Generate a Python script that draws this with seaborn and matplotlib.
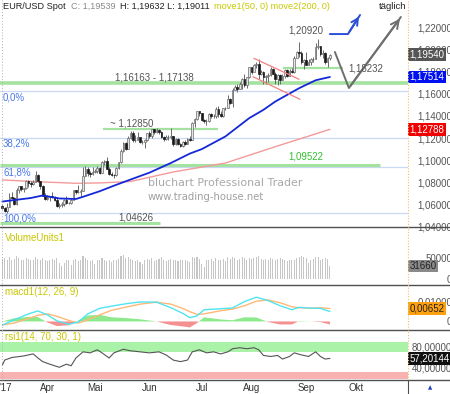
import matplotlib
matplotlib.use('Agg')
import matplotlib.pyplot as plt
import matplotlib.transforms as mtransforms
from matplotlib.lines import Line2D
import seaborn as sns
import numpy as np
import pandas as pd

# ---------------- data (EUR/USD daily, 7 Mar - 15 Sep 2017) ----------------
first_open = 1.0585

close_mar = [1.0570, 1.0545, 1.0580, 1.0670, 1.0655, 1.0605, 1.0735, 1.0765, 1.0740, 1.0745,
             1.0810, 1.0795, 1.0785, 1.0800, 1.0865, 1.0815, 1.0765, 1.0680, 1.0650]
high_mar = [1.0605, 1.0580, 1.0615, 1.0700, 1.0715, 1.0665, 1.0745, 1.0770, 1.0765, 1.0750,
            1.0820, 1.0820, 1.0810, 1.0820, 1.0905, 1.0875, 1.0815, 1.0775, 1.0700]
low_mar = [1.0560, 1.0535, 1.0525, 1.0585, 1.0650, 1.0600, 1.0600, 1.0705, 1.0720, 1.0710,
           1.0740, 1.0760, 1.0760, 1.0775, 1.0800, 1.0805, 1.0740, 1.0675, 1.0645]

close_apr = [1.0665, 1.0675, 1.0665, 1.0645, 1.0590, 1.0600, 1.0605, 1.0640, 1.0615, 1.0615,
             1.0645, 1.0730, 1.0715, 1.0715, 1.0725, 1.0855, 1.0925, 1.0885, 1.0875, 1.0895]
high_apr = [1.0690, 1.0680, 1.0715, 1.0675, 1.0665, 1.0615, 1.0625, 1.0650, 1.0675, 1.0625,
            1.0660, 1.0735, 1.0735, 1.0775, 1.0740, 1.0935, 1.0945, 1.0935, 1.0905, 1.0935]
low_apr = [1.0640, 1.0630, 1.0655, 1.0635, 1.0580, 1.0570, 1.0580, 1.0585, 1.0605, 1.0605,
           1.0605, 1.0640, 1.0695, 1.0700, 1.0680, 1.0820, 1.0855, 1.0855, 1.0850, 1.0870]

close_may = [1.0900, 1.0930, 1.0885, 1.0985, 1.0995, 1.0925, 1.0875, 1.0870, 1.0865, 1.0930,
             1.0980, 1.1085, 1.1160, 1.1100, 1.1205, 1.1245, 1.1180, 1.1185, 1.1210, 1.1165,
             1.1165, 1.1185, 1.1245]
high_may = [1.0920, 1.0950, 1.0935, 1.0990, 1.1000, 1.1025, 1.0935, 1.0895, 1.0880, 1.0935,
            1.0985, 1.1100, 1.1165, 1.1165, 1.1215, 1.1265, 1.1265, 1.1230, 1.1255, 1.1210,
            1.1185, 1.1195, 1.1250]
low_may = [1.0885, 1.0885, 1.0875, 1.0885, 1.0955, 1.0920, 1.0865, 1.0860, 1.0840, 1.0860,
           1.0925, 1.0975, 1.1075, 1.1095, 1.1100, 1.1190, 1.1165, 1.1165, 1.1185, 1.1160,
           1.1150, 1.1110, 1.1170]

close_jun = [1.1215, 1.1280, 1.1255, 1.1275, 1.1255, 1.1210, 1.1195, 1.1210, 1.1210, 1.1215,
             1.1150, 1.1195, 1.1145, 1.1130, 1.1165, 1.1150, 1.1195, 1.1185, 1.1335, 1.1375,
             1.1440, 1.1425]
high_jun = [1.1260, 1.1285, 1.1285, 1.1295, 1.1280, 1.1265, 1.1220, 1.1230, 1.1225, 1.1295,
            1.1220, 1.1200, 1.1205, 1.1160, 1.1175, 1.1185, 1.1205, 1.1215, 1.1345, 1.1385,
            1.1445, 1.1445]
low_jun = [1.1205, 1.1205, 1.1240, 1.1245, 1.1240, 1.1200, 1.1170, 1.1180, 1.1180, 1.1195,
           1.1130, 1.1140, 1.1135, 1.1120, 1.1120, 1.1140, 1.1150, 1.1175, 1.1180, 1.1300,
           1.1365, 1.1395]

close_jul = [1.1365, 1.1350, 1.1350, 1.1420, 1.1400, 1.1400, 1.1465, 1.1415, 1.1400, 1.1470,
             1.1475, 1.1555, 1.1515, 1.1630, 1.1665, 1.1645, 1.1685, 1.1730, 1.1680, 1.1750,
             1.1840]
high_jul = [1.1425, 1.1375, 1.1375, 1.1425, 1.1430, 1.1415, 1.1480, 1.1490, 1.1440, 1.1475,
            1.1485, 1.1585, 1.1565, 1.1650, 1.1680, 1.1685, 1.1710, 1.1745, 1.1775, 1.1755,
            1.1845]
low_jul = [1.1355, 1.1340, 1.1315, 1.1345, 1.1385, 1.1385, 1.1385, 1.1390, 1.1390, 1.1390,
           1.1455, 1.1470, 1.1505, 1.1480, 1.1630, 1.1615, 1.1640, 1.1640, 1.1665, 1.1650,
           1.1740]

close_aug = [1.1800, 1.1860, 1.1865, 1.1775, 1.1795, 1.1750, 1.1760, 1.1770, 1.1820, 1.1780,
             1.1730, 1.1770, 1.1725, 1.1760, 1.1815, 1.1760, 1.1810, 1.1800, 1.1925, 1.1975,
             1.1970, 1.1885, 1.1905]
high_aug = [1.1845, 1.1870, 1.1890, 1.1910, 1.1815, 1.1810, 1.1770, 1.1785, 1.1845, 1.1830,
            1.1795, 1.1780, 1.1775, 1.1780, 1.1820, 1.1820, 1.1820, 1.1830, 1.1940, 1.1985,
            1.2070, 1.1985, 1.1910]
low_aug = [1.1780, 1.1795, 1.1830, 1.1730, 1.1770, 1.1690, 1.1690, 1.1710, 1.1760, 1.1775,
           1.1690, 1.1680, 1.1690, 1.1725, 1.1745, 1.1750, 1.1760, 1.1790, 1.1790, 1.1920,
           1.1935, 1.1870, 1.1825]

close_sep = [1.1860, 1.1885, 1.1915, 1.1915, 1.2025, 1.2035, 1.1955, 1.1965, 1.1885, 1.1920, 1.19539]
high_sep = [1.1980, 1.1910, 1.1925, 1.1935, 1.2060, 1.2092, 1.2030, 1.1995, 1.1980, 1.1930, 1.19632]
low_sep = [1.1860, 1.1870, 1.1860, 1.1890, 1.1925, 1.2000, 1.1945, 1.1920, 1.1870, 1.1840, 1.19011]

volume = [48000, 50000, 47000, 52000, 46000, 49000, 55000, 51000, 47000, 45000,
          50000, 48000, 46000, 47000, 53000, 49000, 47000, 51000, 46000,
          44000, 46000, 48000, 45000, 50000, 38000, 31000, 40000, 47000, 45000,
          35000, 46000, 49000, 44000, 47000, 55000, 50000, 46000, 44000, 45000,
          36000, 45000, 47000, 50000, 46000, 44000, 45000, 42000, 47000, 46000,
          48000, 55000, 57000, 50000, 52000, 48000, 46000, 44000, 45000, 41000,
          36000, 47000, 48000,
          47000, 50000, 44000, 46000, 48000, 52000, 45000, 43000, 46000, 49000,
          47000, 45000, 44000, 46000, 45000, 47000, 43000, 42000, 53000, 51000,
          52000, 48000,
          37000, 30000, 45000, 47000, 48000, 43000, 50000, 47000, 46000, 48000,
          44000, 52000, 49000, 54000, 50000, 46000, 48000, 52000, 50000, 47000,
          51000,
          48000, 50000, 52000, 55000, 49000, 46000, 48000, 47000, 50000, 49000,
          45000, 48000, 51000, 49000, 46000, 44000, 47000, 46000, 45000, 50000,
          53000, 56000, 52000,
          51000, 38000, 47000, 48000, 52000, 54000, 47000, 49000, 50000, 48000, 31660]

# moving averages (bar index, value)
ma50_idx = [0, 12, 17, 24, 31, 34, 41, 47, 52, 62, 71, 79, 84, 94, 104, 110, 115, 125, 132, 138]
ma50_val = [1.0627, 1.0659, 1.0682, 1.0655, 1.0650, 1.0670, 1.0720, 1.0770, 1.0810, 1.0888,
            1.0975, 1.1060, 1.1100, 1.1215, 1.1380, 1.1455, 1.1530, 1.1650, 1.1722, 1.17514]
ma200_idx = [0, 16, 31, 41, 54, 72, 94, 117, 138]
ma200_val = [1.0822, 1.0805, 1.0792, 1.0795, 1.0808, 1.0894, 1.0975, 1.1136, 1.12788]

# MACD / signal
macd_idx = [0, 5, 11, 15, 19, 23, 28, 32, 36, 41, 46, 52, 58, 65, 71, 76, 79, 82, 85, 92,
            97, 102, 107, 112, 117, 122, 125, 130, 134, 138]
macd_val = [-0.0018, 0.0008, 0.0038, 0.0053, 0.0033, 0.0003, -0.0014, -0.0003, 0.0038, 0.0066,
            0.0077, 0.0089, 0.0098, 0.0097, 0.0069, 0.0041, 0.0019, 0.0028, 0.0059, 0.0064,
            0.0068, 0.0100, 0.0122, 0.0105, 0.0079, 0.0059, 0.0071, 0.0067, 0.0066, 0.0050]
signal_val = [-0.0018, -0.0008, 0.0015, 0.0031, 0.0038, 0.0026, 0.0005, -0.0008, 0.0008, 0.0033,
              0.0056, 0.0072, 0.0087, 0.0097, 0.0087, 0.0066, 0.0049, 0.0036, 0.0038, 0.0054,
              0.0062, 0.0079, 0.0102, 0.0108, 0.0094, 0.0074, 0.0069, 0.0067, 0.0069, 0.00652]

# RSI
rsi_idx = [0, 1, 4, 9, 13, 15, 17, 20, 24, 27, 29, 31, 34, 37, 40, 42, 45, 47, 51, 54,
           58, 62, 66, 69, 72, 75, 78, 80, 83, 86, 89, 92, 95, 97, 100, 103, 106, 108, 110, 113,
           116, 118, 121, 123, 126, 129, 132, 134, 136, 138]
rsi_val = [44, 54, 59, 62, 66, 58, 51, 46, 40, 46, 43, 58, 70, 68, 74, 68, 58, 68, 75, 72,
           70, 68, 70, 64, 54, 51, 54, 70, 74, 68, 70, 66, 70, 76, 78, 76, 78, 74, 63, 61,
           63, 56, 61, 68, 64, 61, 70, 61, 56, 57.2]

month_names = ['Apr', 'Mai', 'Jun', 'Jul', 'Aug', 'Sep', 'Okt']
price_ticks = [1.04, 1.06, 1.08, 1.10, 1.12, 1.14, 1.16, 1.18, 1.20, 1.22]

# support / resistance levels (price, first bar, last bar, width)
green_levels = [(1.1694, -1, 171, 2.6), (1.1285, 42.4, 90.9, 1.6), (1.0960, -1, 159, 2.2),
                (1.0431, -1, 66.4, 2.2), (1.1833, 118.2, 143.5, 1.6)]
fib_levels = [1.1628, 1.1205, 1.0942, 1.0521]

# ---------------- figure ----------------
sns.set_theme(style='white')
plt.rcParams['font.family'] = ['Liberation Sans', 'DejaVu Sans']

W, H = 450, 394
fig = plt.figure(figsize=(W / 100, H / 100), dpi=100)
fig.patch.set_facecolor('white')


def panel(top, bottom):
    return fig.add_axes([0, 1 - bottom / H, 408 / W, (bottom - top) / H])


ax = panel(0, 227)
axv = panel(227, 285)
axm = panel(285, 330)
axr = panel(330, 380)
XLIM = (-0.98, 170.9)

closes = np.array(close_mar + close_apr + close_may + close_jun + close_jul + close_aug + close_sep)
highs = np.array(high_mar + high_apr + high_may + high_jun + high_jul + high_aug + high_sep)
lows = np.array(low_mar + low_apr + low_may + low_jun + low_jul + low_aug + low_sep)
opens = np.concatenate([[first_open], closes[:-1]])
highs = np.maximum(highs, np.maximum(opens, closes))
lows = np.minimum(lows, np.minimum(opens, closes))
n = len(closes)
xb = np.arange(n)

days = pd.bdate_range('2017-03-07', '2017-10-31')
month_pos = [int(np.argmax(days.month == m)) for m in range(4, 11)]

# --- price panel ---
for lvl in fib_levels:
    ax.axhline(lvl, color='#c9d8f3', lw=0.9, zorder=1)
for lvl, x0, x1, lw in green_levels:
    ax.hlines(lvl, x0, x1, color='#a4e2a0', lw=lw, zorder=1.5)

up = closes >= opens
ax.vlines(xb, lows, highs, color='#6a6a6a', lw=0.7, zorder=3)
ax.bar(xb[up], (closes - opens)[up], bottom=opens[up], width=0.7, color='#e4e4e4',
       edgecolor='#6a6a6a', linewidth=0.5, zorder=4)
ax.bar(xb[~up], (opens - closes)[~up], bottom=closes[~up], width=0.7, color='#1a1a1a',
       edgecolor='#1a1a1a', linewidth=0.5, zorder=4)

sns.lineplot(x=ma200_idx, y=ma200_val, ax=ax, color='#f49a9a', linewidth=1.0, zorder=2)
sns.lineplot(x=ma50_idx, y=ma50_val, ax=ax, color='#1428d8', linewidth=1.3, zorder=5)

# channel
ax.plot([106, 125], [1.1920, 1.1731], color='#f48080', lw=0.9, zorder=5)
ax.plot([105.6, 125.4], [1.1754, 1.1550], color='#f48080', lw=0.9, zorder=5)
# scenario arrows
ax.plot([138.0, 145.6, 150.7], [1.2139, 1.2139, 1.2311], color='#2a4fd6', lw=1.4, zorder=6)
ax.annotate('', xy=(150.9, 1.2318), xytext=(145.6, 1.2139),
            arrowprops=dict(arrowstyle='->', color='#2a4fd6', lw=1.4, mutation_scale=12))
ax.plot([140.1, 146.0, 167.9], [1.1977, 1.1652, 1.2293], color='#6e6e6e', lw=1.4, zorder=6)
ax.annotate('', xy=(168.2, 1.2298), xytext=(146.0, 1.1652),
            arrowprops=dict(arrowstyle='->', color='#6e6e6e', lw=1.4, mutation_scale=14))

ax.set_ylim(1.03973, 1.24464)

# --- volume ---
axv.bar(xb, volume, width=0.45, color='#c6c6c6', linewidth=0)
axv.set_ylim(-12972, 123820)

# --- macd ---
hist = np.array(macd_val) - np.array(signal_val)
axm.fill_between(macd_idx, hist, 0, where=hist >= 0, interpolate=True, color='#8ee88c', lw=0)
axm.fill_between(macd_idx, hist, 0, where=hist < 0, interpolate=True, color='#f49090', lw=0)
sns.lineplot(x=macd_idx, y=signal_val, ax=axm, color='#ffb878', linewidth=1.0)
sns.lineplot(x=macd_idx, y=macd_val, ax=axm, color='#50e4f0', linewidth=1.0)
axm.set_ylim(-0.00429, 0.01833)

# --- rsi ---
axr.axhspan(70, 89, color='#aaf2a8', lw=0)
axr.axhspan(18, 30, color='#f8b2b2', lw=0)
sns.lineplot(x=rsi_idx, y=rsi_val, ax=axr, color='#555555', linewidth=0.8)
axr.set_ylim(15.3, 112.4)

fmt = lambda v, d: f'{v:.{d}f}'.replace('.', ',')
tick_sets = [(ax, price_ticks, [fmt(v, 5) for v in price_ticks]),
             (axv, [0, 50000], ['0', '50000']),
             (axm, [0, 0.01], ['0', '0,01000']),
             (axr, [40, 80], ['40,00000', '80,00000'])]
for a, vals, labs in tick_sets:
    a.set_xlim(*XLIM)
    a.set_facecolor('white')
    for s in a.spines.values():
        s.set_visible(False)
    a.set_xlabel('')
    a.set_ylabel('')
    a.yaxis.tick_right()
    a.set_yticks(vals)
    a.set_yticklabels(labs)
    a.tick_params(axis='y', length=0, pad=31.7, labelsize=7, labelcolor='#555555')
    for lab in a.get_yticklabels():
        lab.set_horizontalalignment('right')
    a.set_xticks([])

axr.set_xticks(month_pos)
axr.set_xticklabels(month_names)
axr.tick_params(axis='x', length=0, pad=2.5, labelsize=7, labelcolor='#333333')


# value boxes on the right scale
def value_box(a, val, text, fc, tc):
    tr = mtransforms.blended_transform_factory(a.transAxes, a.transData)
    a.text(1.004, val, text, transform=tr, ha='left', va='center', fontsize=7, color=tc,
           zorder=10, bbox=dict(boxstyle='square,pad=0.12', fc=fc, ec='none'))


value_box(ax, 1.19540, '1,19540', '#555555', 'white')
value_box(ax, 1.17514, '1,17514', '#0010f0', 'white')
value_box(ax, 1.12788, '1,12788', '#f00000', 'white')
value_box(axv, 31660, '31660', '#8a8a8a', '#222222')
value_box(axm, 0.00652, '0,00652', '#ffa010', '#222222')
value_box(axr, 57.20144, '57,20144', '#111111', 'white')


# texts placed in pixel coordinates
def ftext(x, y, s, color='#555555', size=7, **kw):
    fig.text(x / W, 1 - y / H, s, ha='left', va='center', color=color, fontsize=size, **kw)


ftext(3, 6.5, 'EUR/USD Spot', '#222222', 6.6)
ftext(71, 6.5, 'C: 1,19539', '#8a8a8a', 6.6)
ftext(120, 6.5, 'H: 1,19632 L: 1,19011', '#222222', 6.6)
ftext(214, 6.5, 'move1(50, 0) move2(200, 0)', '#c8c800', 6.6)
ftext(379, 6.5, 'täglich', '#222222', 6.8)
ftext(115, 77, '1,16163 - 1,17138')
ftext(3, 97, '0,0%', '#4a78e8')
ftext(110, 123, '~ 1,12850')
ftext(3, 143.3, '38,2%', '#4a78e8')
ftext(288, 157, '1,09522', '#30c030')
ftext(3, 172.7, '61,8%', '#4a78e8')
ftext(3, 218.7, '100,0%', '#4a78e8')
ftext(118, 218, '1,04626')
ftext(288, 30.7, '1,20920')
ftext(348, 68.3, '1,18232')
ftext(148, 183.3, 'bluchart Professional Trader', '#a8a8a8', 7.9, family='DejaVu Sans')
ftext(148, 197.3, 'www.trading-house.net', '#a0a0a0', 7.2, family='DejaVu Sans')
ftext(5, 238, 'VolumeUnits1', '#c8c800')
ftext(5, 291.7, 'macd1(12, 26, 9)', '#c8c800')
ftext(5, 337.3, 'rsi1(14, 70, 30, 1)', '#c8c800')
ftext(0, 388, "'17", '#333333')
fig.text(430 / W, 1 - 388 / H, '\u25b2', ha='center', va='center', fontsize=4,
         color='#2040c0', family='DejaVu Sans')

# frame lines
for y in [227, 285, 330, 380]:
    fig.add_artist(Line2D([0, 1], [1 - y / H] * 2, color='#505050', lw=1.0))
fig.add_artist(Line2D([408 / W] * 2, [1 - 380 / H, 1], color='#e6c46a', lw=0.8, ls=(0, (1, 1.5))))
fig.add_artist(Line2D([408 / W] * 2, [0, 1 - 380 / H], color='#505050', lw=0.8))
fig.add_artist(Line2D([1.5 / W] * 2, [1 - 380 / H, 1], color='#b0b0b0', lw=0.7, ls=(0, (1, 2))))

fig.savefig('out.png', dpi=100)
